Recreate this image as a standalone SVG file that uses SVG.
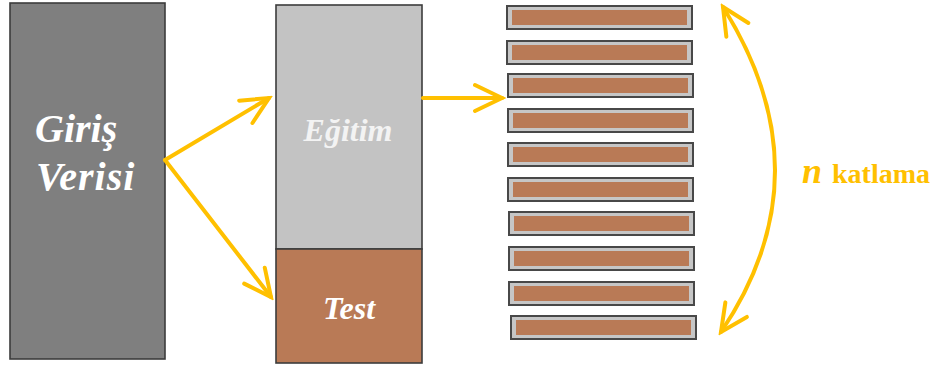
<svg xmlns="http://www.w3.org/2000/svg" width="939" height="368" viewBox="0 0 939 368">
<style>
.box{stroke:#3c3c3c;stroke-width:1.6}
.lbl{font-family:"Liberation Serif","Times New Roman",serif;font-weight:bold;font-style:italic;fill:#ffffff}
.fold-out{fill:#c6c6c6;stroke:#484848;stroke-width:2}
.fold-in{fill:#b97a56}
.conn{fill:none;stroke:#ffc000;stroke-width:4;stroke-linecap:round}
.note{font-family:"Liberation Serif","Times New Roman",serif;font-weight:bold;fill:#ffc000}
</style>
<defs>
<marker id="ah" markerUnits="userSpaceOnUse" markerWidth="40" markerHeight="40" viewBox="-36 -20 40 40" refX="0" refY="0" orient="auto-start-reverse">
<path d="M-27,-13 L0,0 L-27,13" fill="none" stroke="#ffc000" stroke-width="4" stroke-linecap="round" stroke-linejoin="miter"/>
</marker>
</defs>
<rect width="939" height="368" fill="#ffffff"/>
<g id="giris">
<rect class="box" x="10" y="3" width="155" height="356" fill="#7f7f7f"/>
<text class="lbl" x="35" y="142" font-size="40">Giriş</text>
<text class="lbl" x="36" y="190" font-size="40" letter-spacing="1">Verisi</text>
</g>
<g id="egitim">
<rect class="box" x="276" y="5" width="146" height="244" fill="#c3c3c3"/>
<text class="lbl" x="348" y="141" font-size="32" text-anchor="middle" style="fill:#f3f3f3">Eğitim</text>
</g>
<g id="test">
<rect class="box" x="276" y="249" width="146" height="114" fill="#b97a56"/>
<text class="lbl" x="349" y="319" font-size="32" text-anchor="middle">Test</text>
</g>
<g id="folds">
<g id="fold1"><rect class="fold-out" x="507" y="6" width="185" height="23"/><rect class="fold-in" x="512" y="10" width="175" height="15"/></g>
<g id="fold2"><rect class="fold-out" x="507" y="41" width="185" height="23"/><rect class="fold-in" x="512" y="45" width="175" height="15"/></g>
<g id="fold3"><rect class="fold-out" x="508" y="74" width="185" height="23"/><rect class="fold-in" x="513" y="78" width="175" height="15"/></g>
<g id="fold4"><rect class="fold-out" x="508" y="109" width="185" height="23"/><rect class="fold-in" x="513" y="113" width="175" height="15"/></g>
<g id="fold5"><rect class="fold-out" x="508" y="143" width="185" height="23"/><rect class="fold-in" x="513" y="147" width="175" height="15"/></g>
<g id="fold6"><rect class="fold-out" x="508" y="178" width="185" height="23"/><rect class="fold-in" x="513" y="182" width="175" height="15"/></g>
<g id="fold7"><rect class="fold-out" x="509" y="212" width="185" height="23"/><rect class="fold-in" x="514" y="216" width="175" height="15"/></g>
<g id="fold8"><rect class="fold-out" x="509" y="247" width="185" height="23"/><rect class="fold-in" x="514" y="251" width="175" height="15"/></g>
<g id="fold9"><rect class="fold-out" x="509" y="282" width="185" height="23"/><rect class="fold-in" x="514" y="286" width="175" height="15"/></g>
<g id="fold10"><rect class="fold-out" x="511" y="316" width="185" height="23"/><rect class="fold-in" x="516" y="320" width="175" height="15"/></g>
</g>
<g id="connectors">
<path class="conn" d="M165,160 L269,98" marker-end="url(#ah)"/>
<path class="conn" d="M165,160 L271,297" marker-end="url(#ah)"/>
<path class="conn" d="M423,98 L502,98" marker-end="url(#ah)"/>
<path class="conn" d="M723,7 Q828,174 721,332" marker-start="url(#ah)" marker-end="url(#ah)"/>
</g>
<g id="label-n">
<text class="note" x="802" y="183"><tspan font-size="36" font-style="italic">n</tspan><tspan font-size="28" dx="10">katlama</tspan></text>
</g>
</svg>
